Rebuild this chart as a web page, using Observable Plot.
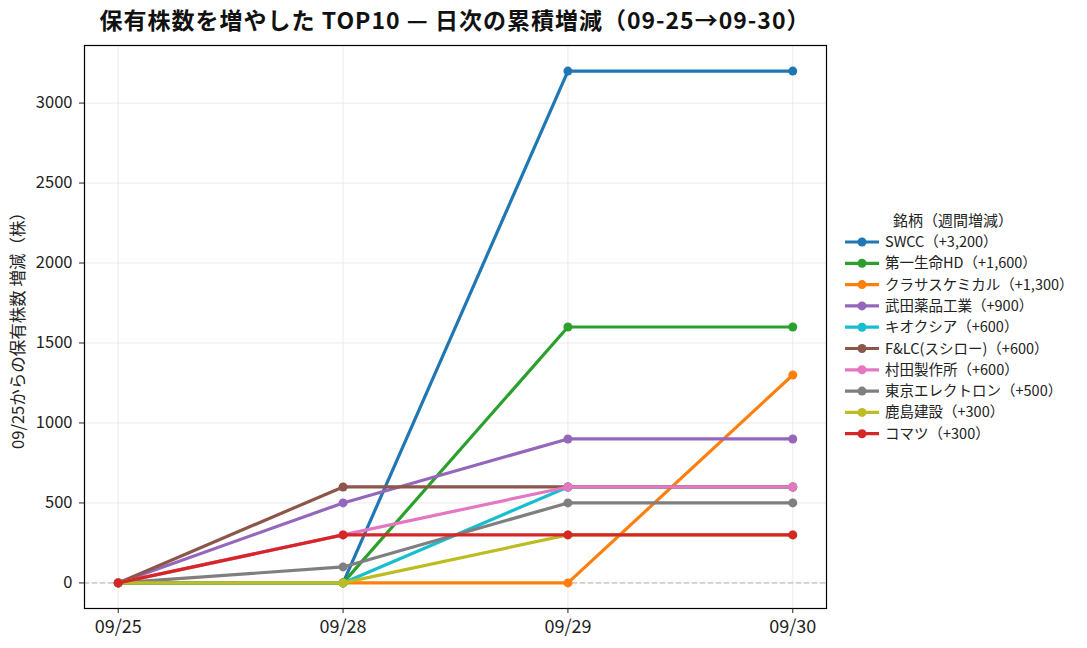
<!DOCTYPE html>
<html><head><meta charset="utf-8">
<script src="https://cdn.jsdelivr.net/npm/d3@7"></script>
<script src="https://cdn.jsdelivr.net/npm/@observablehq/plot@0.6"></script>
<style>
body{margin:0;background:#fff;}
svg{font-family:"Noto Sans CJK JP","Noto Sans",sans-serif;}
</style>
</head><body>
<div id="chart"></div>
<script>
const dates = ["09/25","09/28","09/29","09/30"];
const names = ["SWCC","第一生命HD","クラサスケミカル","武田薬品工業","キオクシア","F&LC(スシロー)","村田製作所","東京エレクトロン","鹿島建設","コマツ"];
const colors = ["#1f77b4","#2ca02c","#ff7f0e","#9467bd","#17becf","#8c564b","#e377c2","#7f7f7f","#bcbd22","#d62728"];
const values = [
  [0,0,3200,3200],
  [0,0,1600,1600],
  [0,0,0,1300],
  [0,500,900,900],
  [0,0,600,600],
  [0,600,600,600],
  [0,300,600,600],
  [0,100,500,500],
  [0,0,300,300],
  [0,300,300,300]
];
const yTicks = [0,500,1000,1500,2000,2500,3000];
const title = "保有株数を増やした TOP10 — 日次の累積増減（09-25→09-30）";
const yLabel = "09/25からの保有株数 増減（株）";
const legendTitle = "銘柄（週間増減）";

const W = 1087, H = 648;
const mL = 84, mR = 261, mT = 45, mB = 40;

const series = names.map((n,i)=>({
  name:n, color:colors[i],
  label: n + "（+" + d3.format(",")(values[i][values[i].length-1]) + "）",
  pts: dates.map((d,j)=>({date:d, value:values[i][j], name:n}))
}));

const marks = [
  Plot.ruleY(yTicks,{stroke:"#e6e6e6",strokeWidth:0.8}),
  Plot.ruleX(dates,{stroke:"#e6e6e6",strokeWidth:0.8}),
  Plot.ruleY([0],{stroke:"#b0b0b0",strokeDasharray:"5,3",strokeWidth:1}),
];
series.forEach(s=>{
  marks.push(Plot.line(s.pts,{x:"date",y:"value",stroke:s.color,strokeWidth:3.2}));
  marks.push(Plot.dot(s.pts,{x:"date",y:"value",fill:s.color,r:4.5}));
});
marks.push(Plot.frame({stroke:"#000",strokeWidth:1.2}));
marks.push(Plot.axisX({tickSize:5,tickPadding:7,fontSize:18,label:null,tickFormat:d=>d}));
marks.push(Plot.axisY({ticks:yTicks,tickSize:5,tickPadding:7,fontSize:16.5,label:null,tickFormat:d=>String(d)}));

const chart = Plot.plot({
  width:W, height:H,
  marginLeft:mL, marginRight:mR, marginTop:mT, marginBottom:mB,
  x:{type:"point",domain:dates,padding:0.15,round:false},
  y:{domain:[-160,3360]},
  style:{fontFamily:'"Noto Sans CJK JP","Noto Sans",sans-serif',color:"#222",background:"#fff"},
  marks
});
document.getElementById("chart").appendChild(chart);

const svg = d3.select(chart);
svg.append("text").attr("x",(mL+(W-mR))/2).attr("y",29).attr("text-anchor","middle")
  .attr("font-size",23).attr("font-weight","bold").attr("letter-spacing",1).attr("fill","#111").text(title);
svg.append("text").attr("transform",`translate(24,${(mT+(H-mB))/2}) rotate(-90)`)
  .attr("text-anchor","middle").attr("font-size",16.5).attr("fill","#222").text(yLabel);

const lg = svg.append("g");
lg.append("text").attr("x",953).attr("y",221).attr("dy","0.35em").attr("text-anchor","middle")
  .attr("font-size",15).attr("fill","#222").text(legendTitle);
series.forEach((s,i)=>{
  const y = 242 + i*21.3;
  lg.append("line").attr("x1",845).attr("x2",879).attr("y1",y).attr("y2",y)
    .attr("stroke",s.color).attr("stroke-width",3.2);
  lg.append("circle").attr("cx",862).attr("cy",y).attr("r",4.5).attr("fill",s.color);
  lg.append("text").attr("x",885).attr("y",y).attr("dy","0.35em").attr("text-anchor","start")
    .attr("font-size",14.5).attr("fill","#222").text(s.label);
});
</script>
</body></html>
